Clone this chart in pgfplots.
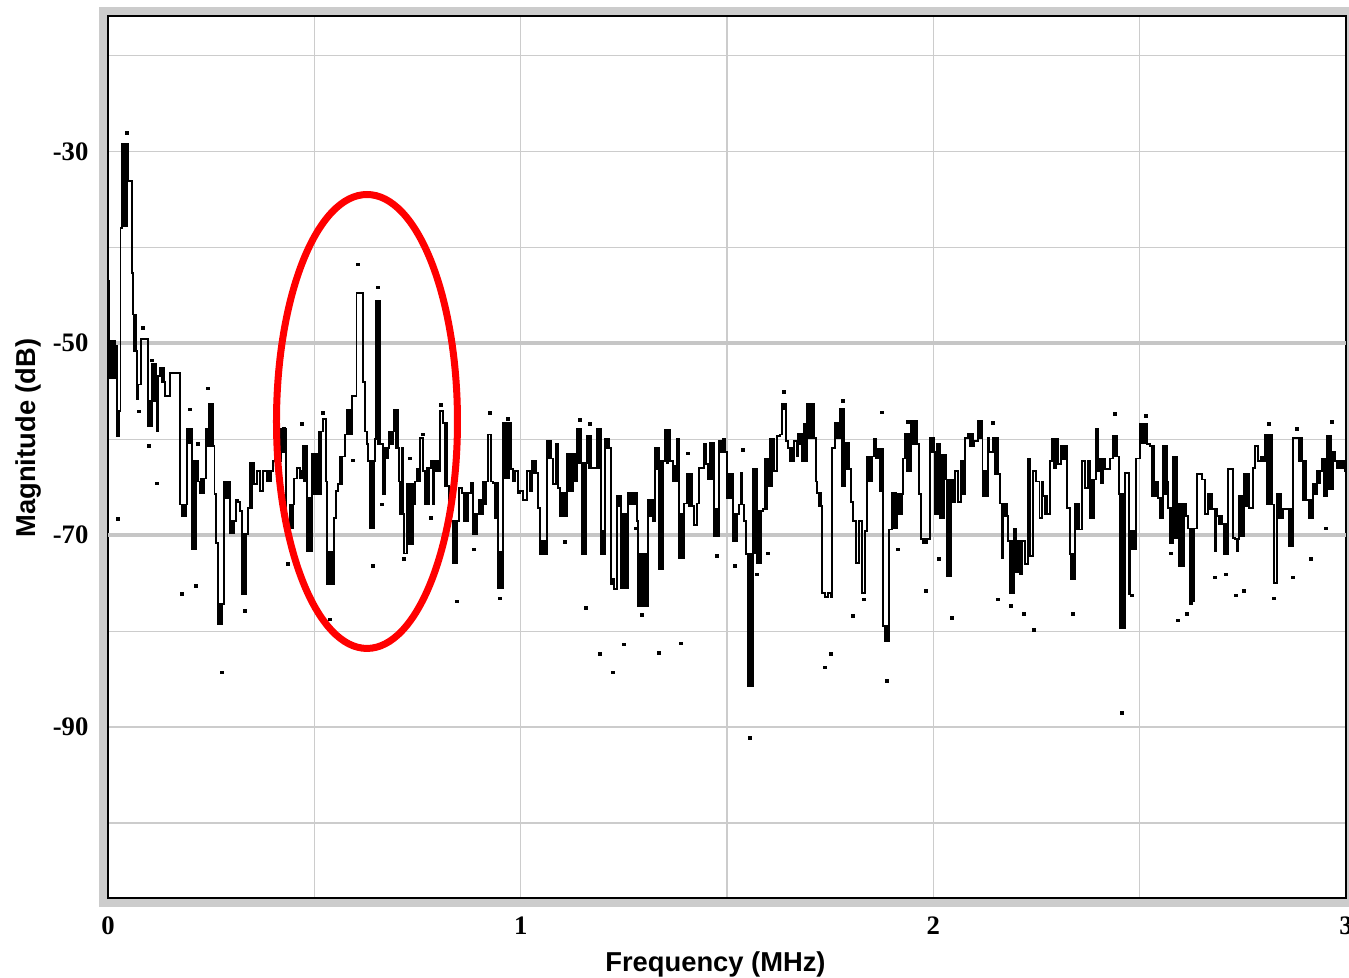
\documentclass[border=0pt]{standalone}
\usepackage{fontspec}
\setmainfont{Liberation Serif}
\newfontfamily\labelfont{Liberation Sans}
\usepackage{pgfplots}
\usepackage{pgfplotstable}
\pgfplotsset{compat=1.18}

% spectrum trace (MHz, dB), read off the screen capture
\pgfplotstableread{
f db
0.0000 -43.5
0.0024 -53.6
0.0061 -49.8
0.0097 -53.6
0.0133 -49.8
0.0170 -53.6
0.0194 -50.3
0.0218 -59.7
0.0267 -57.1
0.0303 -38.0
0.0339 -29.2
0.0376 -37.8
0.0412 -29.2
0.0448 -37.8
0.0473 -29.2
0.0497 -33.1
0.0582 -42.7
0.0606 -47.0
0.0630 -50.8
0.0654 -47.0
0.0679 -50.8
0.0698 -55.8
0.0727 -54.3
0.0800 -49.6
0.0969 -58.6
0.1006 -56.0
0.1042 -58.6
0.1066 -52.2
0.1103 -56.0
0.1139 -52.2
0.1163 -56.0
0.1187 -59.2
0.1212 -53.4
0.1260 -52.6
0.1296 -54.0
0.1333 -52.6
0.1369 -54.0
0.1381 -55.5
0.1502 -53.1
0.1745 -66.8
0.1781 -68.0
0.1817 -66.8
0.1853 -68.0
0.1890 -66.8
0.1914 -58.9
0.1950 -60.4
0.1987 -58.9
0.2035 -71.4
0.2072 -62.3
0.2108 -71.4
0.2144 -62.3
0.2181 -64.4
0.2217 -65.6
0.2253 -64.1
0.2290 -65.6
0.2326 -64.1
0.2375 -58.9
0.2399 -60.7
0.2435 -56.3
0.2472 -60.7
0.2508 -56.3
0.2544 -60.7
0.2581 -65.7
0.2617 -70.8
0.2665 -79.3
0.2702 -77.2
0.2738 -79.3
0.2774 -77.2
0.2811 -64.4
0.2859 -66.1
0.2908 -64.4
0.2956 -69.8
0.2993 -68.5
0.3029 -69.8
0.3065 -68.5
0.3102 -66.3
0.3150 -66.5
0.3198 -67.5
0.3247 -76.1
0.3283 -69.9
0.3320 -76.1
0.3356 -69.9
0.3392 -67.2
0.3429 -62.5
0.3465 -67.2
0.3501 -62.5
0.3538 -64.7
0.3610 -63.3
0.3683 -65.4
0.3756 -63.3
0.3853 -64.4
0.3889 -63.3
0.3925 -64.4
0.3962 -63.3
0.3998 -62.3
0.4034 -60.0
0.4071 -62.3
0.4107 -60.0
0.4143 -62.3
0.4192 -58.9
0.4228 -61.3
0.4265 -58.9
0.4313 -69.3
0.4410 -66.8
0.4446 -69.3
0.4483 -66.8
0.4507 -64.1
0.4580 -63.0
0.4652 -64.1
0.4701 -63.3
0.4725 -60.7
0.4749 -64.4
0.4773 -60.7
0.4822 -71.7
0.4858 -66.1
0.4895 -71.7
0.4943 -61.5
0.4979 -65.7
0.5016 -61.5
0.5064 -65.7
0.5101 -59.2
0.5137 -65.7
0.5173 -59.2
0.5210 -57.9
0.5282 -64.4
0.5307 -75.1
0.5343 -71.7
0.5379 -75.1
0.5416 -71.7
0.5452 -75.1
0.5476 -68.2
0.5525 -65.4
0.5573 -64.7
0.5610 -61.8
0.5646 -64.7
0.5682 -61.8
0.5743 -59.5
0.5791 -56.9
0.5828 -59.5
0.5864 -56.9
0.5900 -59.5
0.5912 -55.5
0.6021 -44.8
0.6178 -54.0
0.6226 -59.2
0.6275 -60.5
0.6299 -62.3
0.6336 -69.3
0.6372 -62.3
0.6408 -69.3
0.6445 -62.3
0.6469 -60.0
0.6493 -45.6
0.6530 -60.5
0.6566 -45.6
0.6602 -60.5
0.6663 -65.7
0.6711 -60.9
0.6760 -62.0
0.6784 -60.9
0.6808 -59.2
0.6857 -60.5
0.6905 -59.2
0.6929 -56.9
0.6966 -60.9
0.7002 -56.9
0.7038 -60.9
0.7051 -64.4
0.7075 -67.8
0.7111 -60.9
0.7148 -67.8
0.7172 -71.9
0.7245 -64.7
0.7281 -70.9
0.7318 -64.7
0.7354 -70.9
0.7390 -64.7
0.7414 -66.8
0.7439 -64.4
0.7475 -63.1
0.7511 -64.4
0.7560 -59.9
0.7633 -63.3
0.7681 -66.8
0.7717 -63.0
0.7754 -66.8
0.7790 -63.0
0.7827 -62.3
0.7875 -66.8
0.7899 -62.3
0.7923 -63.3
0.7960 -62.3
0.7996 -63.3
0.8045 -57.1
0.8117 -58.3
0.8154 -64.9
0.8190 -58.3
0.8226 -64.9
0.8263 -68.5
0.8360 -72.9
0.8396 -68.5
0.8432 -72.9
0.8469 -68.5
0.8505 -65.1
0.8578 -65.6
0.8614 -68.5
0.8650 -65.6
0.8687 -68.5
0.8723 -65.6
0.8796 -64.6
0.8844 -69.9
0.8881 -67.8
0.8917 -69.9
0.8953 -67.8
0.8990 -66.3
0.9038 -67.8
0.9087 -64.4
0.9123 -66.8
0.9159 -64.4
0.9208 -59.5
0.9280 -64.4
0.9329 -64.6
0.9365 -68.2
0.9402 -64.6
0.9450 -75.5
0.9486 -71.7
0.9523 -75.5
0.9571 -58.3
0.9607 -64.1
0.9644 -58.3
0.9680 -64.1
0.9716 -58.3
0.9765 -63.1
0.9813 -64.4
0.9862 -63.3
0.9935 -65.6
0.9983 -65.4
1.0056 -66.3
1.0153 -63.3
1.0225 -65.4
1.0274 -62.3
1.0310 -63.5
1.0347 -62.3
1.0383 -63.5
1.0419 -67.2
1.0468 -72.0
1.0504 -70.6
1.0540 -72.0
1.0577 -70.6
1.0613 -72.0
1.0637 -60.2
1.0674 -62.0
1.0710 -60.2
1.0746 -62.0
1.0783 -64.7
1.0855 -60.5
1.0904 -65.1
1.0952 -68.0
1.0989 -65.6
1.1025 -68.0
1.1061 -65.6
1.1098 -68.0
1.1122 -61.5
1.1158 -65.4
1.1195 -61.5
1.1231 -65.4
1.1267 -61.5
1.1316 -64.4
1.1364 -58.9
1.1401 -62.5
1.1437 -58.9
1.1473 -62.5
1.1486 -72.0
1.1522 -62.5
1.1558 -72.0
1.1595 -62.5
1.1607 -59.7
1.1643 -63.0
1.1680 -59.7
1.1716 -63.0
1.1849 -58.9
1.1885 -63.0
1.1922 -58.9
1.1946 -72.0
1.1982 -69.6
1.2019 -72.0
1.2043 -60.0
1.2079 -60.9
1.2116 -60.0
1.2152 -60.9
1.2188 -75.1
1.2225 -74.6
1.2261 -75.6
1.2334 -65.9
1.2370 -67.0
1.2406 -65.9
1.2431 -75.5
1.2467 -67.8
1.2503 -75.5
1.2540 -67.8
1.2576 -75.5
1.2600 -65.6
1.2649 -66.8
1.2697 -65.6
1.2745 -66.8
1.2794 -65.6
1.2818 -68.5
1.2842 -77.4
1.2879 -72.0
1.2915 -77.4
1.2951 -72.0
1.2988 -77.4
1.3024 -72.0
1.3061 -77.4
1.3085 -66.3
1.3121 -68.0
1.3157 -66.3
1.3206 -68.5
1.3254 -60.9
1.3291 -63.1
1.3327 -60.9
1.3351 -73.5
1.3388 -62.3
1.3424 -73.5
1.3460 -62.3
1.3497 -59.0
1.3533 -62.5
1.3569 -59.0
1.3618 -62.3
1.3691 -64.4
1.3727 -62.8
1.3763 -64.4
1.3788 -60.0
1.3836 -72.4
1.3872 -67.8
1.3909 -72.4
1.3957 -66.7
1.4030 -63.6
1.4078 -67.0
1.4115 -63.6
1.4151 -67.0
1.4199 -68.9
1.4272 -66.7
1.4321 -63.0
1.4442 -60.5
1.4490 -62.6
1.4539 -64.2
1.4575 -60.4
1.4611 -64.2
1.4648 -60.4
1.4684 -70.1
1.4720 -67.3
1.4757 -70.1
1.4805 -60.2
1.4854 -61.3
1.4902 -60.0
1.4951 -61.3
1.4999 -66.1
1.5035 -63.6
1.5072 -66.1
1.5108 -63.6
1.5144 -70.6
1.5181 -67.8
1.5217 -70.6
1.5253 -67.8
1.5290 -66.8
1.5326 -63.5
1.5362 -66.8
1.5411 -68.5
1.5459 -72.0
1.5508 -85.7
1.5544 -72.0
1.5580 -85.7
1.5629 -63.1
1.5665 -71.9
1.5702 -63.1
1.5726 -72.9
1.5762 -67.5
1.5799 -72.9
1.5835 -67.5
1.5871 -67.3
1.5908 -62.0
1.5944 -67.3
1.5980 -62.0
1.5992 -64.9
1.6029 -60.0
1.6065 -64.9
1.6101 -60.0
1.6138 -63.3
1.6211 -59.7
1.6283 -59.5
1.6332 -56.3
1.6368 -56.9
1.6404 -56.3
1.6429 -60.2
1.6477 -60.9
1.6514 -62.3
1.6550 -60.9
1.6586 -62.3
1.6622 -60.2
1.6695 -61.8
1.6720 -59.4
1.6756 -60.5
1.6792 -59.4
1.6816 -62.3
1.6853 -58.4
1.6889 -62.3
1.6937 -56.3
1.6974 -59.9
1.7010 -56.3
1.7046 -59.9
1.7083 -56.3
1.7107 -59.9
1.7155 -64.4
1.7180 -65.6
1.7216 -67.0
1.7252 -65.6
1.7289 -67.0
1.7301 -76.0
1.7374 -76.4
1.7446 -76.0
1.7519 -76.4
1.7543 -60.9
1.7616 -58.3
1.7652 -59.9
1.7689 -58.3
1.7725 -59.9
1.7737 -56.8
1.7773 -64.9
1.7810 -56.8
1.7846 -64.9
1.7858 -60.4
1.7895 -63.1
1.7931 -60.4
1.7967 -63.1
1.8004 -66.5
1.8052 -68.5
1.8125 -72.9
1.8197 -68.5
1.8270 -76.0
1.8343 -69.6
1.8391 -61.8
1.8415 -64.4
1.8452 -61.8
1.8488 -64.4
1.8524 -61.8
1.8561 -60.0
1.8609 -62.0
1.8658 -61.0
1.8706 -65.4
1.8755 -61.0
1.8779 -79.5
1.8815 -81.0
1.8852 -79.5
1.8888 -81.0
1.8924 -69.4
1.8997 -65.6
1.9021 -69.3
1.9058 -65.6
1.9094 -69.3
1.9130 -65.7
1.9142 -67.8
1.9179 -65.7
1.9215 -67.8
1.9251 -65.7
1.9264 -62.0
1.9312 -59.4
1.9361 -63.3
1.9385 -59.4
1.9421 -63.3
1.9458 -58.1
1.9494 -60.5
1.9506 -58.1
1.9542 -60.5
1.9579 -58.1
1.9615 -60.5
1.9652 -65.7
1.9700 -70.4
1.9748 -70.8
1.9785 -70.4
1.9821 -70.8
1.9857 -70.4
1.9918 -59.9
1.9942 -61.3
1.9978 -59.9
2.0015 -61.3
2.0039 -67.8
2.0075 -60.5
2.0112 -67.8
2.0148 -60.5
2.0160 -68.2
2.0197 -61.6
2.0233 -68.2
2.0269 -61.6
2.0306 -64.2
2.0330 -74.3
2.0366 -64.2
2.0403 -74.3
2.0439 -64.2
2.0475 -66.5
2.0524 -63.3
2.0596 -66.5
2.0669 -62.3
2.0718 -65.7
2.0766 -59.9
2.0839 -59.4
2.0887 -60.7
2.0923 -59.4
2.0960 -60.7
2.0996 -60.2
2.1081 -58.1
2.1117 -59.9
2.1154 -58.1
2.1190 -65.9
2.1202 -63.3
2.1238 -65.9
2.1275 -63.3
2.1311 -65.9
2.1323 -59.9
2.1360 -61.3
2.1444 -59.9
2.1481 -63.6
2.1517 -59.9
2.1566 -63.6
2.1614 -66.7
2.1650 -72.4
2.1687 -66.7
2.1723 -68.0
2.1735 -66.7
2.1784 -68.0
2.1808 -70.6
2.1844 -76.0
2.1880 -70.6
2.1917 -76.0
2.1953 -69.3
2.2002 -73.8
2.2050 -70.6
2.2098 -74.0
2.2147 -70.6
2.2220 -73.0
2.2292 -62.1
2.2341 -72.2
2.2413 -63.3
2.2486 -64.4
2.2571 -68.2
2.2632 -64.4
2.2656 -65.9
2.2692 -67.8
2.2728 -65.9
2.2765 -67.8
2.2825 -62.3
2.2874 -60.0
2.2922 -63.0
2.2971 -60.0
2.3019 -62.6
2.3092 -60.7
2.3140 -62.1
2.3189 -60.7
2.3237 -67.2
2.3310 -72.0
2.3346 -74.6
2.3383 -72.0
2.3419 -74.6
2.3431 -66.7
2.3467 -69.4
2.3504 -66.7
2.3540 -69.4
2.3601 -62.3
2.3673 -65.1
2.3746 -62.3
2.3794 -68.2
2.3831 -64.2
2.3867 -68.2
2.3903 -64.2
2.3940 -58.9
2.3988 -63.3
2.4037 -62.0
2.4073 -64.6
2.4109 -62.0
2.4158 -63.1
2.4279 -62.0
2.4352 -59.7
2.4389 -61.8
2.4425 -59.7
2.4461 -61.8
2.4498 -65.7
2.4522 -79.7
2.4558 -65.7
2.4594 -79.7
2.4643 -63.5
2.4740 -76.1
2.4764 -69.6
2.4800 -71.4
2.4837 -69.6
2.4873 -71.4
2.4909 -62.0
2.5006 -58.4
2.5043 -60.4
2.5079 -58.4
2.5115 -60.4
2.5152 -58.4
2.5176 -60.5
2.5249 -60.7
2.5285 -65.9
2.5321 -60.7
2.5358 -65.9
2.5394 -64.4
2.5443 -66.1
2.5479 -68.2
2.5515 -66.1
2.5552 -68.2
2.5564 -60.7
2.5600 -65.7
2.5636 -60.7
2.5661 -64.4
2.5685 -67.2
2.5721 -70.8
2.5757 -67.2
2.5794 -70.8
2.5806 -61.8
2.5842 -70.3
2.5879 -61.8
2.5915 -70.3
2.5927 -66.7
2.5963 -73.2
2.6000 -66.7
2.6036 -73.2
2.6072 -66.7
2.6121 -68.0
2.6169 -69.3
2.6206 -76.9
2.6242 -69.3
2.6278 -76.9
2.6315 -69.3
2.6388 -63.6
2.6508 -64.2
2.6581 -67.8
2.6654 -65.7
2.6690 -67.3
2.6727 -65.7
2.6763 -67.3
2.6812 -71.7
2.6848 -67.3
2.6872 -68.0
2.6909 -68.8
2.6945 -68.0
2.6993 -68.8
2.7030 -72.0
2.7066 -68.8
2.7102 -72.0
2.7139 -63.1
2.7260 -70.3
2.7309 -70.4
2.7345 -71.7
2.7381 -70.4
2.7405 -65.9
2.7442 -70.1
2.7478 -65.9
2.7502 -70.1
2.7527 -63.6
2.7563 -67.0
2.7600 -63.6
2.7648 -67.2
2.7745 -63.0
2.7793 -60.7
2.7866 -62.3
2.7939 -61.8
2.7987 -62.3
2.8036 -59.5
2.8072 -66.8
2.8108 -59.5
2.8145 -66.8
2.8181 -59.5
2.8205 -66.8
2.8254 -75.0
2.8326 -65.7
2.8363 -68.2
2.8399 -65.7
2.8435 -68.2
2.8471 -67.3
2.8605 -71.1
2.8641 -67.3
2.8677 -71.1
2.8714 -59.9
2.8871 -62.3
2.8908 -59.9
2.8932 -62.3
2.8968 -66.3
2.9005 -62.3
2.9041 -66.3
2.9090 -68.2
2.9126 -66.3
2.9163 -68.2
2.9199 -64.7
2.9248 -65.7
2.9296 -63.3
2.9333 -64.6
2.9369 -63.3
2.9417 -62.1
2.9454 -65.9
2.9490 -62.1
2.9526 -65.9
2.9538 -59.7
2.9575 -65.2
2.9611 -59.7
2.9647 -65.2
2.9684 -61.3
2.9733 -62.3
2.9781 -63.0
2.9830 -62.3
2.9878 -63.0
2.9927 -62.3
2.9975 -63.3
3.0000 -63.3
}\trace

% stray single-pixel samples around the trace
\pgfplotstableread{
f db
0.0460 -28.1
0.0848 -48.4
0.0751 -57.1
0.0993 -60.7
0.1187 -64.6
0.1066 -51.8
0.2423 -54.7
0.1987 -56.9
0.2181 -60.5
0.0242 -68.3
0.1793 -76.1
0.2132 -75.3
0.2762 -84.3
0.3320 -77.9
0.4362 -73.0
0.5379 -78.8
0.6421 -73.2
0.4701 -58.4
0.5210 -57.3
0.6639 -66.8
0.6058 -41.8
0.6542 -44.2
0.4265 -58.9
0.5937 -62.2
0.7318 -62.0
0.7633 -59.5
0.8069 -56.4
0.9256 -57.3
0.9692 -57.9
0.8457 -76.9
0.9499 -76.6
0.8868 -71.5
0.7172 -72.5
0.7827 -68.2
1.1437 -58.0
1.1679 -58.4
1.1582 -77.6
1.1922 -82.4
1.2237 -84.3
1.2503 -81.4
1.2939 -78.3
1.3351 -82.3
1.3884 -81.3
1.4757 -72.2
1.5193 -73.2
1.5726 -74.1
1.5992 -71.9
1.6380 -55.1
1.5387 -61.1
1.4054 -61.5
1.2794 -69.3
1.1074 -70.7
1.7810 -56.0
1.8755 -57.2
1.7519 -82.4
1.7374 -83.8
1.8876 -85.2
1.8052 -78.4
1.8318 -76.7
1.9821 -75.8
2.0451 -78.6
2.1566 -76.7
2.1880 -77.4
2.2196 -78.2
2.2438 -79.9
2.3383 -78.2
2.4813 -76.3
2.0136 -72.5
1.9142 -71.5
2.4401 -57.4
2.1444 -58.3
1.9385 -58.2
2.5152 -57.6
2.8132 -58.4
2.8811 -58.9
2.9659 -58.2
2.6242 -77.1
2.6145 -78.2
2.5927 -78.9
2.6824 -74.4
2.7090 -74.1
2.7333 -76.3
2.7527 -75.8
2.8254 -76.6
2.8714 -74.4
2.9150 -72.5
2.5757 -71.9
2.9514 -69.3
2.4570 -88.5
1.5556 -91.1
}\strays

\begin{document}
\begin{tikzpicture}
\begin{axis}[
    scale only axis, width=371.4pt, height=264.6pt,
    xmin=0, xmax=3, ymin=-107.8, ymax=-15.9,
    xtick={0,0.5,1,1.5,2,2.5,3}, xticklabels={0,,1,,2,,3},
    ytick={-100,-90,-80,-70,-60,-50,-40,-30,-20},
    yticklabels={,-90,,-70,,-50,,-30,},
    extra y ticks={-50,-70}, extra y tick labels={},
    extra y tick style={grid=major, grid style={gray!45, line width=1.1pt}},
    major tick length=0pt,
    grid=major, grid style={gray!40, line width=0.4pt},
    axis line style={black, line width=0.6pt},
    tick label style={font=\fontsize{8}{9}\selectfont\bfseries, inner sep=0pt},
    yticklabel style={anchor=east, xshift=-5.7pt},
    xticklabel style={anchor=north, yshift=-5.4pt},
    xlabel={Frequency (MHz)}, ylabel={Magnitude (dB)},
    every axis x label/.style={at={(rel axis cs:0.4907,-0.0601)}, anchor=north,
        inner sep=0pt, font=\labelfont\bfseries\fontsize{8.2}{9}\selectfont},
    every axis y label/.style={at={(rel axis cs:-0.0646,0.5215)}, anchor=center, rotate=90,
        inner sep=0pt, font=\labelfont\bfseries\fontsize{8.2}{9}\selectfont},
]
\addplot[const plot mark left, black, line width=0.55pt, no markers] table[x=f, y=db] {\trace};
\addplot[only marks, mark=square*, mark size=0.35pt, black] table[x=f, y=db] {\strays};
\draw[red, line width=2.1pt] (axis cs:0.6276,-58.15) ellipse [x radius=0.2193, y radius=23.65];
\coordinate (ll) at (rel axis cs:0,0);
\coordinate (ur) at (rel axis cs:1,1);
\end{axis}
\draw[gray!40, line width=2.4pt] ([xshift=-1.5pt,yshift=-1.5pt]ll) rectangle ([xshift=1.5pt,yshift=1.5pt]ur);
\pgfresetboundingbox
\useasboundingbox ([xshift=-32.4pt,yshift=-24pt]ll) rectangle ([xshift=0.9pt,yshift=4.8pt]ur);
\end{tikzpicture}
\end{document}
